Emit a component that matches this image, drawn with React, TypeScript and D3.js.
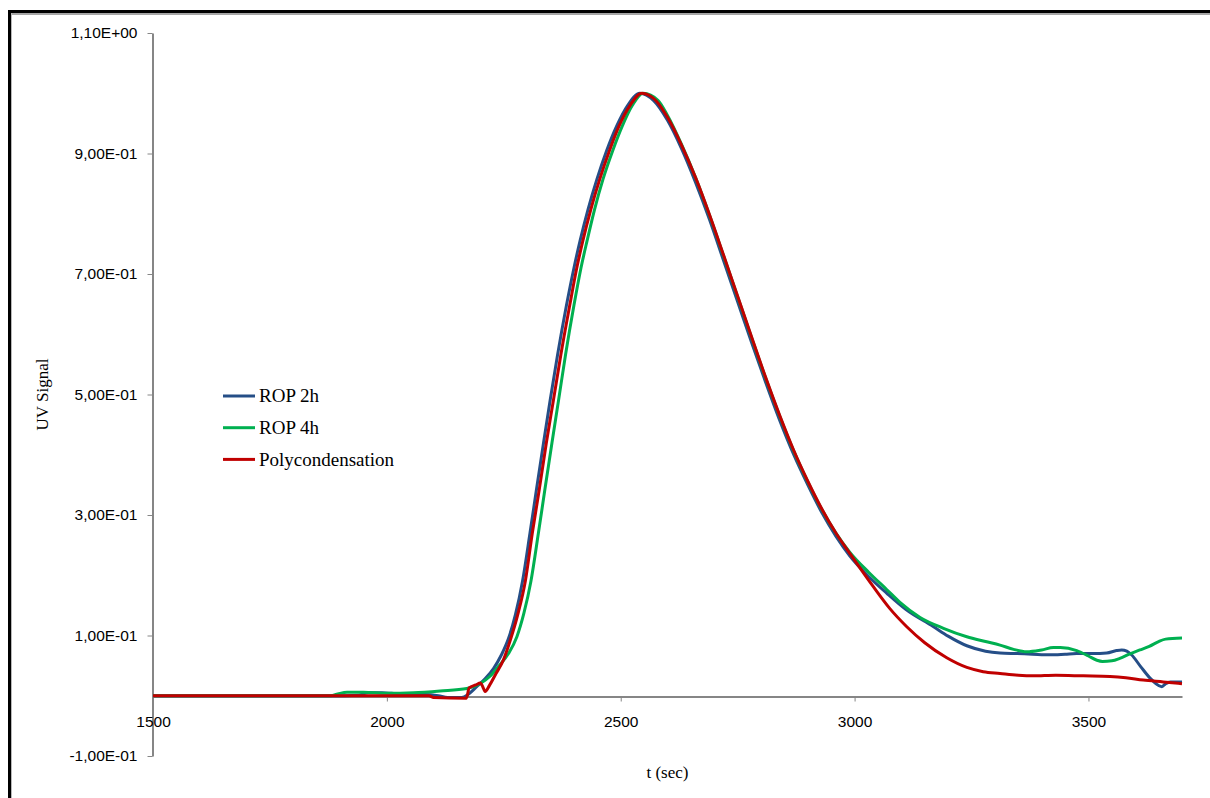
import React, { useEffect, useRef } from 'react'
import * as d3 from 'd3'

// ROP 2h
const rop2hTime = [1500, 1880, 1940, 1960, 1990, 2010, 2040, 2080, 2110, 2130, 2160, 2175, 2192, 2210, 2228, 2245, 2260, 2275, 2290, 2306, 2320, 2335, 2349, 2365, 2384, 2400, 2413, 2430, 2449, 2470, 2491, 2515, 2541, 2570, 2600, 2630, 2660, 2690, 2720, 2750, 2780, 2810, 2840, 2870, 2900, 2930, 2960, 2990, 3030, 3069, 3110, 3168, 3200, 3240, 3280, 3311, 3347, 3380, 3418, 3450, 3475, 3510, 3539, 3560, 3571, 3582, 3592, 3612, 3632, 3650, 3657, 3665, 3675, 3700]
const rop2hValue = [0, 0, 0.001, 0.005, 0.005, 0.004, 0.002, 0.002, 0.0, -0.003, -0.003, 0.003, 0.015, 0.028, 0.045, 0.068, 0.095, 0.135, 0.19, 0.27, 0.343, 0.42, 0.49, 0.566, 0.648, 0.71, 0.755, 0.807, 0.857, 0.905, 0.945, 0.98, 1.0, 0.988, 0.955, 0.908, 0.852, 0.79, 0.722, 0.654, 0.586, 0.52, 0.457, 0.4, 0.35, 0.304, 0.265, 0.232, 0.198, 0.17, 0.143, 0.115, 0.099, 0.083, 0.074, 0.071, 0.07, 0.069, 0.068, 0.069, 0.07, 0.07, 0.071, 0.075, 0.076, 0.074, 0.068, 0.048, 0.029, 0.017, 0.015, 0.02, 0.023, 0.023]

// ROP 4h
const rop4hTime = [1500, 1880, 1895, 1915, 1950, 2000, 2057, 2114, 2171, 2199, 2220, 2240, 2260, 2278, 2293, 2308, 2324, 2338, 2353, 2367, 2382, 2400, 2415, 2428, 2444, 2462, 2483, 2503, 2525, 2548, 2580, 2600, 2630, 2660, 2690, 2720, 2750, 2780, 2810, 2840, 2870, 2900, 2930, 2960, 2990, 3030, 3069, 3097, 3140, 3190, 3240, 3280, 3311, 3340, 3368, 3400, 3425, 3440, 3475, 3500, 3518, 3530, 3550, 3567, 3590, 3610, 3630, 3650, 3665, 3700]
const rop4hValue = [0, 0, 0.003, 0.006, 0.006, 0.004, 0.005, 0.008, 0.012, 0.02, 0.032, 0.05, 0.07, 0.098, 0.137, 0.19, 0.27, 0.343, 0.42, 0.49, 0.566, 0.648, 0.71, 0.755, 0.807, 0.857, 0.905, 0.945, 0.98, 1.0, 0.988, 0.963, 0.915, 0.86, 0.797, 0.73, 0.662, 0.594, 0.527, 0.464, 0.406, 0.355, 0.309, 0.27, 0.238, 0.205, 0.176, 0.155, 0.13, 0.112, 0.098, 0.09, 0.084, 0.077, 0.073, 0.076, 0.08, 0.08, 0.075, 0.066, 0.059, 0.057, 0.058, 0.062, 0.07, 0.076, 0.082, 0.09, 0.094, 0.096]

// Polycondensation
const polyTime = [1500, 2090, 2100, 2170, 2176, 2190, 2200, 2205, 2210, 2220, 2232, 2249, 2263, 2280, 2296, 2311, 2326, 2341, 2356, 2372, 2391, 2406, 2419, 2436, 2455, 2476, 2496, 2520, 2545, 2575, 2600, 2630, 2660, 2690, 2720, 2750, 2780, 2810, 2840, 2870, 2900, 2930, 2960, 2990, 3040, 3075, 3111, 3150, 3197, 3240, 3275, 3311, 3350, 3382, 3430, 3489, 3546, 3580, 3617, 3660, 3700]
const polyValue = [0, 0, -0.003, -0.004, 0.013, 0.018, 0.021, 0.015, 0.007, 0.018, 0.035, 0.059, 0.09, 0.135, 0.19, 0.27, 0.343, 0.42, 0.49, 0.566, 0.648, 0.71, 0.755, 0.807, 0.857, 0.905, 0.945, 0.98, 1.0, 0.988, 0.96, 0.914, 0.86, 0.798, 0.731, 0.663, 0.595, 0.528, 0.465, 0.407, 0.356, 0.31, 0.27, 0.236, 0.181, 0.145, 0.115, 0.088, 0.063, 0.047, 0.04, 0.037, 0.034, 0.033, 0.034, 0.033, 0.032, 0.03, 0.026, 0.023, 0.02]

const seriesNames = ['ROP 2h', 'ROP 4h', 'Polycondensation']
const seriesColors = ['#254e87', '#00b050', '#c00000']
const xTicks = [1500, 2000, 2500, 3000, 3500]
const yTicks = [-0.1, 0.1, 0.3, 0.5, 0.7, 0.9, 1.1]

// excel style scientific label, e.g. 1,10E+00
const sci = (v: number) => {
    const [m, e] = v.toExponential(2).split('e')
    const n = parseInt(e, 10)
    return m.replace('.', ',') + 'E' + (n < 0 ? '-' : '+') + String(Math.abs(n)).padStart(2, '0')
}

export default function App() {
    const ref = useRef<SVGSVGElement>(null)

    useEffect(() => {
        const svg = d3.select(ref.current)
        svg.selectAll('*').remove()

        const x = d3.scaleLinear().domain([1500, 3700]).range([153, 1182])
        const y = d3.scaleLinear().domain([-0.1, 1.1]).range([756, 33])
        const axisColor = '#868686'
        const sans = '"Liberation Sans", Arial, sans-serif'
        const serif = '"Liberation Serif", "Times New Roman", serif'

        // outer frame (cut by the picture on the right and bottom)
        svg.append('rect').attr('x', 9.5).attr('y', 11.5).attr('width', 1400).attr('height', 1000)
            .attr('fill', 'none').attr('stroke', '#000').attr('stroke-width', 3)
        svg.append('line').attr('x1', 11).attr('x2', 1210).attr('y1', 14).attr('y2', 14)
            .attr('stroke', '#a6a6a6').attr('stroke-width', 2)
        svg.append('line').attr('x1', 11.5).attr('x2', 11.5).attr('y1', 13).attr('y2', 798)
            .attr('stroke', '#b8b8b8').attr('stroke-width', 1)

        const yAxis = svg.append('g').attr('transform', 'translate(152.5,0)')
            .call(d3.axisLeft(y).tickValues(yTicks).tickFormat((d) => sci(+d)).tickSize(5).tickSizeOuter(0).tickPadding(10))
        const xAxis = svg.append('g').attr('transform', `translate(0,${Math.round(y(0)) + 0.5})`)
            .call(d3.axisBottom(x).tickValues(xTicks).tickFormat(d3.format('d')).tickSize(5).tickSizeOuter(0).tickPadding(14))

        for (const ax of [yAxis, xAxis]) {
            ax.select('.domain').attr('stroke', axisColor).attr('stroke-width', 2)
            ax.selectAll('.tick line').attr('stroke', axisColor).attr('stroke-width', 1)
            ax.selectAll('.tick text').attr('fill', '#000').attr('font-family', sans).attr('font-size', 15.5)
        }

        const line = d3.line<[number, number]>()
            .x((d) => x(d[0]))
            .y((d) => y(d[1]))
            .curve(d3.curveMonotoneX)

        const series = [
            d3.zip(rop2hTime, rop2hValue),
            d3.zip(rop4hTime, rop4hValue),
            d3.zip(polyTime, polyValue),
        ] as [number, number][][]

        svg.append('g')
            .selectAll('path')
            .data(series)
            .join('path')
            .attr('d', (d) => line(d))
            .attr('fill', 'none')
            .attr('stroke', (_, i) => seriesColors[i])
            .attr('stroke-width', 3)
            .attr('stroke-linejoin', 'round')

        // legend
        const legend = svg.append('g')
            .selectAll('g')
            .data(seriesNames)
            .join('g')
            .attr('transform', (_, i) => `translate(223,${396 + i * 31.7})`)
        legend.append('line').attr('x1', 0).attr('x2', 32)
            .attr('stroke', (_, i) => seriesColors[i]).attr('stroke-width', 3)
        legend.append('text').attr('x', 36).attr('dy', '0.33em')
            .attr('font-family', serif).attr('font-size', 19)
            .text((d) => d)

        svg.append('text')
            .attr('transform', `translate(48,${(y(1.1) + y(-0.1)) / 2}) rotate(-90)`)
            .attr('text-anchor', 'middle')
            .attr('font-family', serif).attr('font-size', 17)
            .text('UV Signal')

        svg.append('text')
            .attr('x', (x(1500) + x(3700)) / 2).attr('y', 778)
            .attr('text-anchor', 'middle')
            .attr('font-family', serif).attr('font-size', 17)
            .text('t (sec)')
    }, [])

    return (
        <svg ref={ref} width={1210} height={798}
            style={{ position: 'absolute', left: 0, top: 0, background: '#fff' }} />
    )
}
